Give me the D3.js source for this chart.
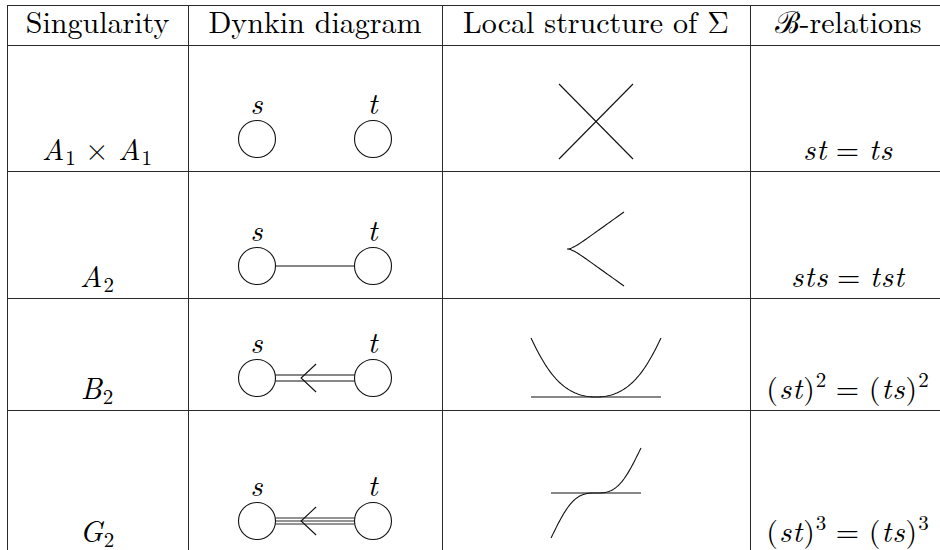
<!DOCTYPE html>
<html>
<head>
<meta charset="utf-8">
<script src="https://cdn.jsdelivr.net/npm/d3@7"></script>
<style>
  body { margin: 0; background: #fff; }
</style>
</head>
<body>
<div id="chart"></div>
<script>
'use strict';

// table content
const headers = ["Singularity", "Dynkin diagram", "Local structure of \u03A3", "\u212C-relations"];
const singularities = ["A_1 \u00D7 A_1", "A_2", "B_2", "G_2"];
const bondCounts = [0, 1, 2, 3];
const hasArrow = [false, false, true, true];
const localShapes = ["cross", "cusp", "tacnode", "flex"];
const relations = ["st = ts", "sts = tst", "(st)^2 = (ts)^2", "(st)^3 = (ts)^3"];
const nodeLabels = ["s", "t"];

(function() {
    var W = 940, H = 550;
    var colEdges = [7, 188, 442, 750, 946];
    var rowEdges = [5, 45, 171, 298, 410, 553];
    var fontSize = 30;
    var FONT = "'Latin Modern Roman', 'Liberation Serif', serif";

    var svg = d3.select("#chart").append("svg")
        .attr("width", W)
        .attr("height", H);

    var colCenter = function(i) { return (colEdges[i] + colEdges[i + 1]) / 2; };

    // grid lines
    var grid = svg.append("g").attr("stroke", "#2a2a2a").attr("stroke-width", 1);
    rowEdges.slice(0, 5).forEach(function(y) {
        grid.append("line")
            .attr("x1", colEdges[0]).attr("x2", W)
            .attr("y1", y + 0.5).attr("y2", y + 0.5);
    });
    colEdges.slice(0, 4).forEach(function(x) {
        grid.append("line")
            .attr("x1", x + 0.5).attr("x2", x + 0.5)
            .attr("y1", rowEdges[0]).attr("y2", H);
    });

    // small TeX-like text: letters italic, _x subscript, ^x superscript
    function mathText(parent, str, x, y, size, plain) {
        var t = parent.append("text")
            .attr("x", x).attr("y", y)
            .attr("text-anchor", "middle")
            .style("font-family", FONT)
            .style("font-size", size + "px")
            .style("fill", "#000");
        if (!plain) t.style("letter-spacing", "1px");
        var shift = 0;
        for (var i = 0; i < str.length; i++) {
            var ch = str[i], mode = "n";
            if ((ch === "_" || ch === "^") && i + 1 < str.length) {
                mode = ch;
                ch = str[++i];
            }
            if (!plain && ch === " ") ch = "\u2005";
            var target = mode === "_" ? size * 0.15 : mode === "^" ? -size * 0.4 : 0;
            var ts = t.append("tspan").text(ch).attr("dy", target - shift);
            shift = target;
            if (mode !== "n") ts.style("font-size", (size * 0.7) + "px");
            if (!plain && /[a-zA-Z]/.test(ch)) ts.style("font-style", "italic");
        }
        return t;
    }

    // header row
    headers.forEach(function(h, i) {
        mathText(svg, h, colCenter(i), 33, fontSize, true);
    });

    var line = d3.line();

    // local boxes for the curve pictures, relative to column centre and baseline
    var shapeBox = {
        cross:   { x: [-37, 37], y: [-76, -1] },
        cusp:    { x: [-29, 28], y: [-75, -1] },
        tacnode: { x: [-65, 65], y: [-61, -2] },
        flex:    { x: [-45, 45], y: [-94, -4] }
    };

    singularities.forEach(function(name, r) {
        var base = rowEdges[r + 2] - 11;
        var g = svg.append("g");

        // column 1
        mathText(g, name, colCenter(0), base, fontSize);

        // column 2: Dynkin diagram
        var nx = d3.scaleLinear().domain([0, 1]).range([257, 373]);
        var cy = base - 21, rad = 18.5;
        var n = bondCounts[r];
        var offs = n === 1 ? [0] : n === 2 ? [-3, 3] : n === 3 ? [-3, 0, 3] : [];
        offs.forEach(function(dy) {
            var dx = Math.sqrt(rad * rad - dy * dy);
            g.append("line")
                .attr("x1", nx(0) + dx).attr("x2", nx(1) - dx)
                .attr("y1", cy + dy).attr("y2", cy + dy)
                .attr("stroke", "#111").attr("stroke-width", n === 3 ? 0.9 : 1.1);
        });
        if (hasArrow[r]) {
            var tip = nx(0.38);
            g.append("path")
                .attr("d", line([[tip + 15, cy - 14], [tip, cy], [tip + 15, cy + 14]]))
                .attr("fill", "none").attr("stroke", "#111").attr("stroke-width", 1.1);
        }
        nodeLabels.forEach(function(lb, k) {
            g.append("circle")
                .attr("cx", nx(k)).attr("cy", cy).attr("r", rad)
                .attr("fill", "#fff").attr("stroke", "#111").attr("stroke-width", 1.1);
            mathText(g, lb, nx(k), cy - 25, 30);
        });

        // column 3: local structure
        var box = shapeBox[localShapes[r]];
        var cx = colCenter(2);
        var sx = d3.scaleLinear().domain([-1, 1]).range([cx + box.x[0], cx + box.x[1]]);
        var sy = d3.scaleLinear().domain([-1, 1]).range([base + box.y[1], base + box.y[0]]);
        var curves = [];
        var shape = localShapes[r];
        if (shape === "cross") {
            curves.push([[-1, 1], [1, -1]], [[-1, -1], [1, 1]]);
        } else if (shape === "cusp") {
            // bezier branch from the tip (x=-1) to the end (x=1)
            var branch = function(sign) {
                return d3.range(0, 1.0001, 0.02).map(function(t) {
                    var u = 1 - t;
                    var bx = 3*u*u*t*0.12 + 3*u*t*t*0.25 + t*t*t;
                    var by = 3*u*t*t*0.18 + t*t*t;
                    return [bx * 2 - 1, sign * by];
                });
            };
            curves.push(branch(1).reverse().concat(branch(-1)));
        } else if (shape === "tacnode") {
            curves.push([[-1, -1], [1, -1]]);
            var half = d3.range(0, 1.0001, 0.02).map(function(t) {
                var u = 1 - t;
                var bx = -u*u*u - 3*u*u*t*0.75 - 3*u*t*t*0.5;
                var by = u*u*u + 3*u*u*t*0.42;
                return [bx, by * 2 - 1];
            });
            var mirrored = half.slice().reverse().map(function(p) { return [-p[0], p[1]]; });
            curves.push(half.concat(mirrored));
        } else if (shape === "flex") {
            curves.push([[-1, 0], [1, 0]]);
            curves.push(d3.range(-1, 1.0001, 0.02).map(function(u) {
                return [u, 1.5 * Math.pow(u, 3) - 0.5 * Math.pow(u, 5)];
            }));
        }
        curves.forEach(function(c) {
            g.append("path")
                .attr("d", line(c.map(function(p) { return [sx(p[0]), sy(p[1])]; })))
                .attr("fill", "none").attr("stroke", "#111").attr("stroke-width", 1.1);
        });

        // column 4: relation
        mathText(g, relations[r], colCenter(3), base, fontSize);
    });
})();
</script>
</body>
</html>
